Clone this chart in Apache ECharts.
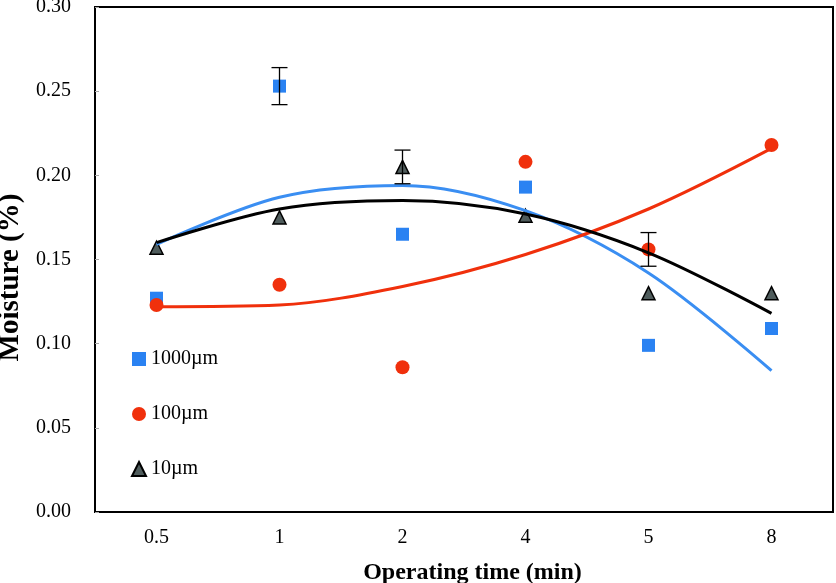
<!DOCTYPE html>
<html>
<head>
<meta charset="utf-8">
<script src="https://cdn.jsdelivr.net/npm/echarts@6/dist/echarts.min.js"></script>
<style>
    html, body {margin: 0; padding: 0; background: #fff;}
    #chart {width: 836px; height: 583px;}
</style>
</head>
<body>
<div id="chart"></div>
<script>
    // operating time categories (min)
    var times = ['0.5', '1', '2', '4', '5', '8'];
    var yTicks = [0, 0.05, 0.10, 0.15, 0.20, 0.25, 0.30];

    // measured moisture (%)
    var m1000 = [0.127, 0.253, 0.165, 0.193, 0.099, 0.109];
    var m100  = [0.123, 0.135, 0.086, 0.208, 0.156, 0.218];
    var m10   = [0.157, 0.175, 0.205, 0.176, 0.130, 0.130];

    // error bars (half width), null = none drawn
    var e1000 = [null, 0.011, null, null, null, null];
    var e100  = [null, null, null, null, 0.010, null];
    var e10   = [null, null, 0.010, null, null, null];

    // trend curves at each category
    var t1000 = [0.159, 0.187, 0.194, 0.179, 0.142, 0.084];
    var t100  = [0.122, 0.123, 0.134, 0.153, 0.180, 0.216];
    var t10   = [0.160, 0.180, 0.185, 0.177, 0.154, 0.118];

    var BLUE = '#2a82f2', RED = '#f0300c', GREY = '#4f5c5c';
    var FONT = 'Liberation Serif';

    function errData(vals, errs) {
        var out = [];
        errs.forEach(function (e, i) {
            if (e != null) out.push([i, vals[i], e]);
        });
        return out;
    }

    function errBar(params, api) {
        var x = api.value(0), y = api.value(1), e = api.value(2);
        var top = api.coord([x, y + e]);
        var bot = api.coord([x, y - e]);
        var hw = 8;
        var st = {stroke: '#000', lineWidth: 1.3};
        return {
            type: 'group',
            children: [
                {type: 'line', shape: {x1: top[0], y1: top[1], x2: bot[0], y2: bot[1]}, style: st},
                {type: 'line', shape: {x1: top[0] - hw, y1: top[1], x2: top[0] + hw, y2: top[1]}, style: st},
                {type: 'line', shape: {x1: bot[0] - hw, y1: bot[1], x2: bot[0] + hw, y2: bot[1]}, style: st}
            ]
        };
    }

    function trend(data, color) {
        return {
            type: 'line', data: data, smooth: 0.33, showSymbol: false, silent: true,
            lineStyle: {color: color, width: 3}, z: 3
        };
    }

    var chart = echarts.init(document.getElementById('chart'));
    chart.setOption({
        backgroundColor: '#fff',
        animation: false,
        grid: {left: 95, right: 3, top: 7, bottom: 71, outerBoundsMode: 'none',
            show: true, borderColor: '#000', borderWidth: 2},
        legend: {
            orient: 'vertical', left: 131, top: 349, padding: 0,
            itemWidth: 14, itemHeight: 14, itemGap: 35,
            data: ['1000µm', '100µm', '10µm'],
            textStyle: {fontFamily: FONT, fontSize: 20, color: '#000'}
        },
        xAxis: [
            {
                type: 'category', data: times, boundaryGap: true,
                name: 'Operating time (min)', nameLocation: 'middle', nameGap: 49,
                nameTextStyle: {fontFamily: FONT, fontSize: 24, fontWeight: 'bold', color: '#000',
                    padding: [0, 0, 0, 17]},
                axisLine: {lineStyle: {color: '#000', width: 2}},
                axisTick: {inside: true, length: 5, lineStyle: {color: '#aaa'}},
                axisLabel: {fontFamily: FONT, fontSize: 20, color: '#000', margin: 16},
                splitLine: {show: false}
            },
            {
                type: 'category', data: times, boundaryGap: true, position: 'bottom',
                axisLine: {show: false}, axisLabel: {show: false},
                axisTick: {inside: true, alignWithLabel: true, length: 5, lineStyle: {color: '#aaa'}},
                splitLine: {show: false}
            }
        ],
        yAxis: {
            type: 'value', min: yTicks[0], max: yTicks[yTicks.length - 1], interval: 0.05,
            name: 'Moisture (%)', nameLocation: 'middle', nameGap: 66, nameRotate: 90,
            nameTextStyle: {fontFamily: FONT, fontSize: 29, fontWeight: 'bold', color: '#000',
                padding: [0, 36, 0, 0]},
            axisLine: {show: true, lineStyle: {color: '#000', width: 2}},
            axisTick: {show: true, inside: true, length: 4, lineStyle: {color: '#aaa'}},
            axisLabel: {fontFamily: FONT, fontSize: 20, color: '#000', margin: 24,
                formatter: function (v) { return v.toFixed(2); }},
            splitLine: {show: false}
        },
        series: [
            {name: '1000µm', type: 'scatter', data: m1000, symbol: 'rect', symbolSize: 13,
                itemStyle: {color: BLUE, opacity: 1}, z: 2},
            {name: '100µm', type: 'scatter', data: m100, symbol: 'circle', symbolSize: 14,
                itemStyle: {color: RED, opacity: 1}, z: 2},
            {name: '10µm', type: 'scatter', data: m10, symbol: 'triangle', symbolSize: 13,
                itemStyle: {color: GREY, borderColor: '#000', borderWidth: 1.5, opacity: 1}, z: 2},
            trend(t1000, '#3a8ef2'),
            trend(t100, RED),
            trend(t10, '#000'),
            {type: 'custom', renderItem: errBar, data: errData(m1000, e1000), z: 4, silent: true},
            {type: 'custom', renderItem: errBar, data: errData(m100, e100), z: 4, silent: true},
            {type: 'custom', renderItem: errBar, data: errData(m10, e10), z: 4, silent: true}
        ]
    });
</script>
</body>
</html>
